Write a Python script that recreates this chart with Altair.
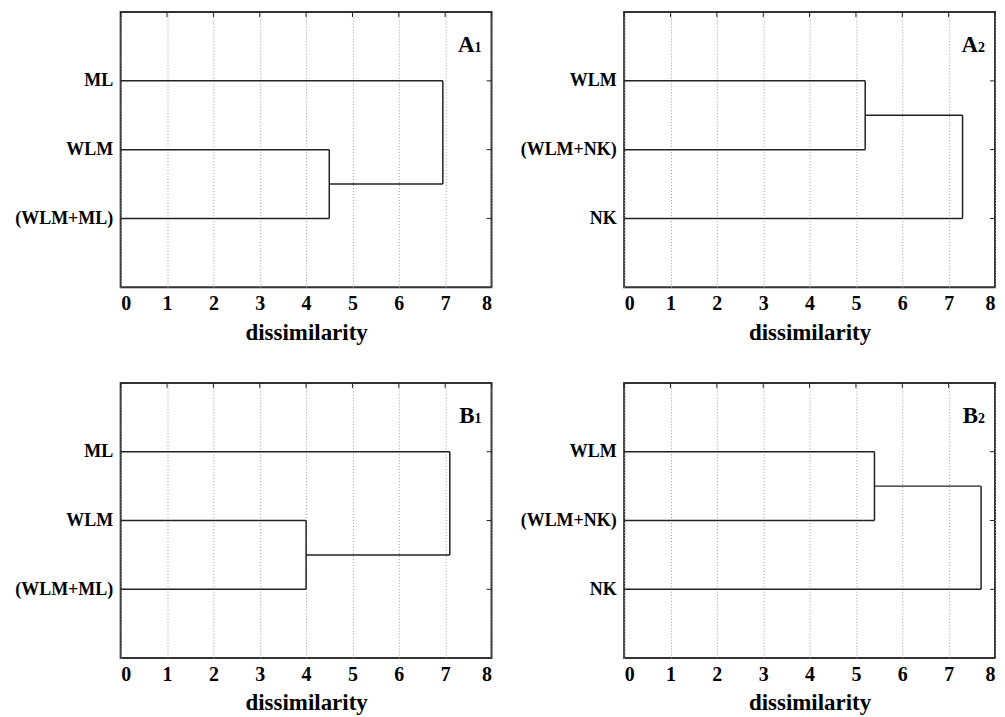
import altair as alt
import pandas as pd

# ---- data ----
panel_letters = ["A", "A", "B", "B"]
panel_digits = ["1", "2", "1", "2"]
leaves = [
    ["ML", "WLM", "(WLM+ML)"],
    ["WLM", "(WLM+NK)", "NK"],
    ["ML", "WLM", "(WLM+ML)"],
    ["WLM", "(WLM+NK)", "NK"],
]
pair_rows = [[2, 3], [1, 2], [2, 3], [1, 2]]   # leaves joined first
single_row = [1, 3, 1, 3]                       # leaf joined last
merge1 = [4.5, 5.2, 4.0, 5.4]                   # first join dissimilarity
merge2 = [6.95, 7.3, 7.1, 7.7]                  # second join dissimilarity
x_ticks = [0, 1, 2, 3, 4, 5, 6, 7, 8]
row_ticks = [1, 2, 3]

W, H = 372, 276
FONT = "Liberation Serif"
LINE = "#222222"


def panel(i):
    p1, p2 = pair_rows[i]
    s = single_row[i]
    h1, h2 = merge1[i], merge2[i]
    mid = (p1 + p2) / 2
    segs = pd.DataFrame([
        {"x": 0, "x2": h1, "y": p1, "y2": p1},
        {"x": 0, "x2": h1, "y": p2, "y2": p2},
        {"x": h1, "x2": h1, "y": p1, "y2": p2},
        {"x": 0, "x2": h2, "y": s, "y2": s},
        {"x": h1, "x2": h2, "y": mid, "y2": mid},
        {"x": h2, "x2": h2, "y": s, "y2": mid},
    ])
    label_expr = "[" + ",".join(f"'{n}'" for n in leaves[i]) + "][datum.value - 1]"

    xenc = alt.X(
        "x:Q",
        scale=alt.Scale(domain=[0, 8], nice=False, zero=False),
        axis=alt.Axis(
            values=x_ticks, format="d", title="dissimilarity",
            ticks=False, domain=False, grid=True,
            gridDash=[1, 2], gridColor="#9a9a9a", gridWidth=1,
            labelFont=FONT, labelFontSize=20, labelFontWeight="bold",
            labelColor="#000", labelPadding=6,
            titleFont=FONT, titleFontSize=23, titleFontWeight="bold",
            titleColor="#000", titlePadding=8,
        ),
    )
    yenc = alt.Y(
        "y:Q",
        scale=alt.Scale(domain=[0, 4], reverse=True, nice=False, zero=False),
        axis=alt.Axis(
            values=row_ticks, labelExpr=label_expr, title=None,
            ticks=False, domain=False, grid=False,
            labelFont=FONT, labelFontSize=18, labelFontWeight="bold",
            labelColor="#000", labelPadding=8,
        ),
    )

    tree = alt.Chart(segs).mark_rule(color=LINE, strokeWidth=1.5).encode(
        x=xenc, x2="x2:Q", y=yenc, y2="y2:Q"
    )
    top_ticks = alt.Chart(pd.DataFrame({"x": x_ticks})).mark_rule(
        color=LINE, strokeWidth=1
    ).encode(x=xenc, y=alt.value(0), y2=alt.value(5))
    right_ticks = alt.Chart(pd.DataFrame({"y": row_ticks})).mark_rule(
        color=LINE, strokeWidth=1
    ).encode(y=yenc, x=alt.value(W - 5), x2=alt.value(W))
    letter = alt.Chart(pd.DataFrame({"t": [panel_letters[i]]})).mark_text(
        font=FONT, fontSize=23, fontWeight="bold", align="right",
        baseline="alphabetic", color="#000"
    ).encode(text="t:N", x=alt.value(355), y=alt.value(40))
    digit = alt.Chart(pd.DataFrame({"t": [panel_digits[i]]})).mark_text(
        font=FONT, fontSize=14, fontWeight="bold", align="left",
        baseline="alphabetic", color="#000"
    ).encode(text="t:N", x=alt.value(355), y=alt.value(40))

    return alt.layer(tree, top_ticks, right_ticks, letter, digit).properties(
        width=W, height=H
    )


chart = alt.concat(
    *[panel(i) for i in range(4)],
    columns=2,
    spacing={"row": 96, "column": 133},
    bounds="flush",
).properties(
    padding={"left": 5, "top": 1, "right": 0, "bottom": 0}
).configure_view(
    stroke="#333333", strokeWidth=2
)

chart.save("out.html", embed_options={"renderer": "svg", "actions": False})
